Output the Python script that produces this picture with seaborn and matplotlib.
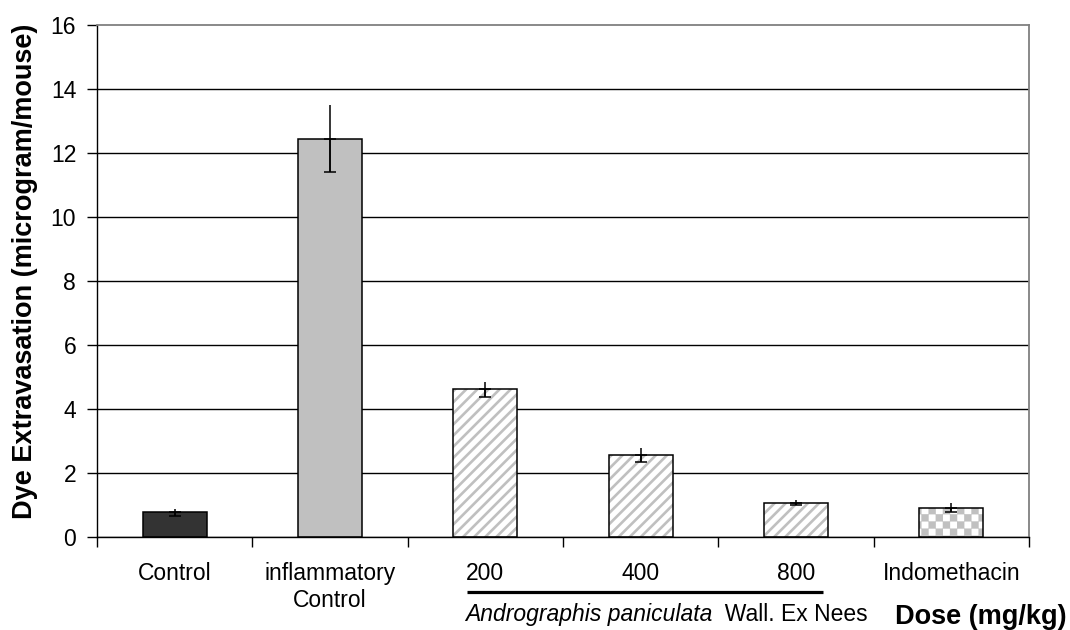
import warnings
warnings.filterwarnings('ignore')
import numpy as np
import pandas as pd
import matplotlib
matplotlib.use('Agg')
import matplotlib.pyplot as plt
import matplotlib.hatch as mhatch
import matplotlib.colors as mcolors
import matplotlib.transforms as mtrans
from matplotlib.path import Path
import seaborn as sns

# ---------------- data ----------------
categories = ['Control', 'inflammatory\nControl', '200', '400', '800', 'Indomethacin']
values = [0.77, 12.45, 4.61, 2.55, 1.07, 0.92]
errors = [0.12, 1.05, 0.24, 0.22, 0.08, 0.13]
bar_colors = ['#333333', '#c0c0c0', '#ffffff', '#ffffff', '#ffffff', '#ffffff']
bar_hatches = [None, None, 'd', 'd', 'd', 'k']
y_ticks = [0, 2, 4, 6, 8, 10, 12, 14, 16]
y_label = 'Dye Extravasation (microgram/mouse)'
x_label = 'Dose (mg/kg)'
group_italic = 'Andrographis paniculata'
group_plain = '  Wall. Ex Nees'


# ---------------- custom hatch patterns ----------------
class DiagonalHatch(mhatch.HatchPatternBase):
    """Diagonal stripes, 'd'."""
    def __init__(self, hatch, density):
        self.on = 'd' in hatch
        self.offsets = np.linspace(-1, 1, 19)
        self.num_vertices = 2 * len(self.offsets) if self.on else 0

    def set_vertices_and_codes(self, vertices, codes):
        c = self.offsets
        vertices[0::2, 0] = c
        vertices[0::2, 1] = 0.0
        vertices[1::2, 0] = 1.0 + c
        vertices[1::2, 1] = 1.0
        codes[0::2] = Path.MOVETO
        codes[1::2] = Path.LINETO


class CheckerHatch(mhatch.HatchPatternBase):
    """Checkerboard, 'k'."""
    def __init__(self, hatch, density):
        self.n = 14 if 'k' in hatch else 0
        self.num_vertices = (self.n * self.n // 2) * 5

    def set_vertices_and_codes(self, vertices, codes):
        n = self.n
        s = 1.0 / n
        inset = 0.012
        w = s - 2 * inset
        k = 0
        for i in range(n):
            for j in range(n):
                if (i + j) % 2 == 0:
                    x0 = i * s + inset
                    y0 = j * s + inset
                    vertices[k:k + 5] = [[x0, y0], [x0 + w, y0], [x0 + w, y0 + w],
                                         [x0, y0 + w], [x0, y0]]
                    codes[k] = Path.MOVETO
                    codes[k + 1:k + 4] = Path.LINETO
                    codes[k + 4] = Path.CLOSEPOLY
                    k += 5


mhatch._hatch_types.append(DiagonalHatch)
mhatch._hatch_types.append(CheckerHatch)

# ---------------- style ----------------
sns.set_theme(style='white')
plt.rcParams['font.family'] = ['Liberation Sans', 'DejaVu Sans']
plt.rcParams['hatch.linewidth'] = 1.9

fig = plt.figure(figsize=(10.7, 6.3), dpi=100)
ax = fig.add_axes([97 / 1070, 1 - 537 / 630, (1029 - 97) / 1070, (537 - 25) / 630])

df = pd.DataFrame({'group': categories, 'value': values})
sns.barplot(data=df, x='group', y='value', hue='group', palette=bar_colors,
            order=categories, hue_order=categories, width=0.41, errorbar=None,
            edgecolor='black', linewidth=1.0, saturation=1, legend=False, ax=ax)

hatch_rgba = mcolors.to_rgba('#c0c0c0')
for cont, col, h in zip(ax.containers, bar_colors, bar_hatches):
    for p in cont:
        p.set_facecolor(col)
        p.set_edgecolor('black')
        p.set_linewidth(1.1)
        p.set_zorder(2)
        if h:
            p.set_hatch(h)
            p._hatch_color = hatch_rgba

xpos = np.arange(len(categories))
ax.errorbar(xpos, values, yerr=errors, fmt='none', ecolor='black',
            elinewidth=1.1, capsize=0, zorder=4)
ax.errorbar(xpos, values, yerr=[errors, np.zeros(len(errors))], fmt='none',
            ecolor='black', elinewidth=1.1, capsize=4.5, capthick=1.1, zorder=4)

# axes
ax.set_xlim(-0.5, len(categories) - 0.5)
ax.set_ylim(0, 16)
ax.set_yticks(y_ticks)
ax.set_yticklabels([str(v) for v in y_ticks])
ax.set_xticks(xpos)
ax.set_xticklabels(categories, linespacing=1.2)
ax.set_xticks(np.arange(-0.5, len(categories), 1.0), minor=True)
ax.tick_params(axis='x', which='major', length=0, pad=18, labelsize=16.5, labelcolor='black')
ax.tick_params(axis='x', which='minor', length=7, width=1.0, color='black', direction='out', bottom=True)
ax.tick_params(axis='y', which='major', length=7, width=1.0, color='black', direction='out',
               pad=8, labelsize=16.5, labelcolor='black', left=True)
ax.set_xlabel('')
ax.set_ylabel('')

ax.grid(axis='y', color='black', linewidth=1.0)
ax.grid(axis='x', visible=False)
ax.set_axisbelow(True)
ax.get_ygridlines()[-1].set_visible(False)

for side in ['left', 'bottom']:
    ax.spines[side].set_color('black')
    ax.spines[side].set_linewidth(1.0)
for side in ['top', 'right']:
    ax.spines[side].set_color('#808080')
    ax.spines[side].set_linewidth(1.3)
for s in ax.spines.values():
    s.set_visible(True)

# y label
fig.text(25 / 1070, 1 - 271.5 / 630, y_label, rotation=90, ha='center', va='center',
         fontsize=19.5, fontweight='bold', color='black')

# x label
fig.text(1067 / 1070, 1 - 624 / 630, x_label, ha='right', va='baseline',
         fontsize=19.5, fontweight='bold', color='black')

# group bracket under 200-800
blend = mtrans.blended_transform_factory(ax.transData, fig.transFigure)
ax.plot([1.882, 4.174], [1 - 591.5 / 630, 1 - 591.5 / 630], color='black',
        linewidth=2.3, solid_capstyle='butt', transform=blend, clip_on=False)
t1 = fig.text(465 / 1070, 1 - 621 / 630, group_italic, ha='left', va='baseline',
              fontsize=16.5, fontstyle='italic', color='black')
fig.canvas.draw()
bb = t1.get_window_extent()
fig.text(bb.x1 / 1070, 1 - 621 / 630, group_plain, ha='left', va='baseline',
         fontsize=16.5, color='black')

fig.savefig('out.png', dpi=100)
